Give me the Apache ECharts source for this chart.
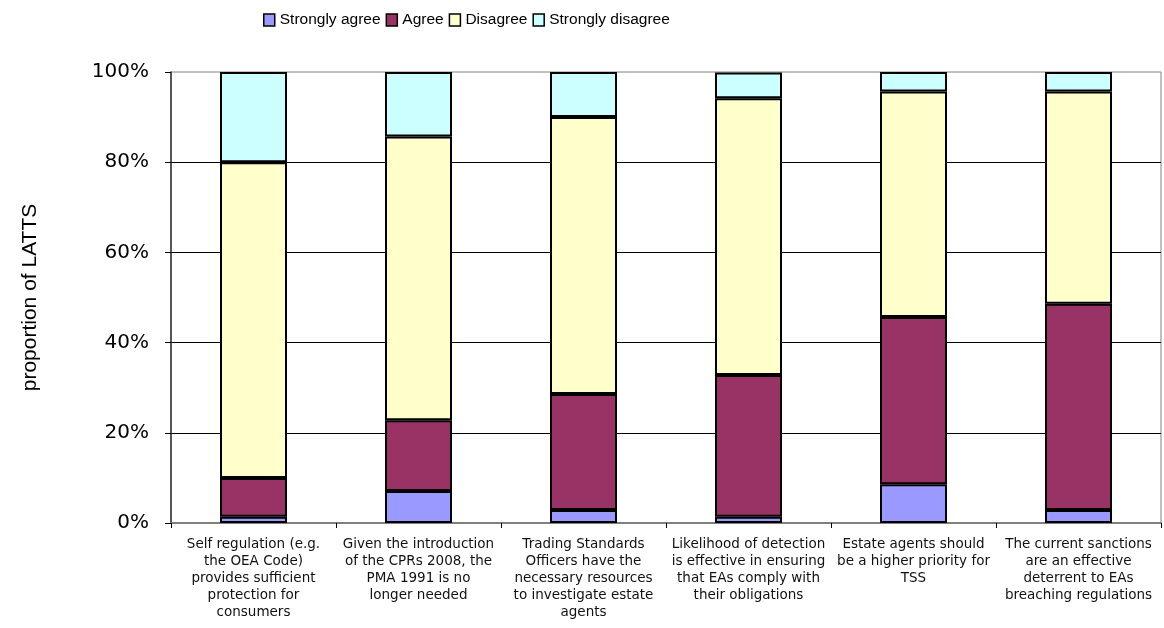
<!DOCTYPE html>
<html>
<head>
<meta charset="utf-8">
<script src="https://cdn.jsdelivr.net/npm/echarts@6/dist/echarts.min.js"></script>
<style>
  html, body { margin: 0; padding: 0; background: #fff; }
  #chart { width: 1164px; height: 628px; }
</style>
</head>
<body>
<div id="chart"></div>
<script>
// Survey statements (one bar each), with line breaks as printed under the axis
const categories = [
  'Self regulation (e.g.\nthe OEA Code)\nprovides sufficient\nprotection for\nconsumers',
  'Given the introduction\nof the CPRs 2008, the\nPMA 1991 is no\nlonger needed',
  'Trading Standards\nOfficers have the\nnecessary resources\nto investigate estate\nagents',
  'Likelihood of detection\nis effective in ensuring\nthat EAs comply with\ntheir obligations',
  'Estate agents should\nbe a higher priority for\nTSS',
  'The current sanctions\nare an effective\ndeterrent to EAs\nbreaching regulations'
];

// Share of responding authorities (%) for each answer
const stronglyAgree    = [1.4, 7.1, 2.9, 1.4, 8.6, 2.9];
const agree            = [8.6, 15.7, 25.7, 31.4, 37.1, 45.7];
const disagree         = [70.0, 62.9, 61.4, 61.4, 50.0, 47.1];
const stronglyDisagree = [20.0, 14.3, 10.0, 5.7, 4.3, 4.3];

const seriesNames = ['Strongly agree', 'Agree', 'Disagree', 'Strongly disagree'];
const seriesColors = ['#9999FF', '#993366', '#FFFFCC', '#CCFFFF'];
const seriesData = [stronglyAgree, agree, disagree, stronglyDisagree];

const chart = echarts.init(document.getElementById('chart'), null, { renderer: 'canvas' });

chart.setOption({
  backgroundColor: '#ffffff',
  animation: false,
  legend: {
    data: seriesNames,
    left: 258,
    top: 7,
    itemWidth: 11,
    itemHeight: 12,
    itemGap: 5,
    icon: 'rect',
    itemStyle: { borderColor: '#000', borderWidth: 1.5 },
    textStyle: {
      fontFamily: '"Liberation Sans", Arial, sans-serif',
      fontSize: 15.5,
      color: '#000'
    }
  },
  grid: {
    left: 171,
    right: 3,
    top: 72,
    bottom: 105,
    show: true,
    borderColor: '#808080',
    borderWidth: 1,
    containLabel: false
  },
  xAxis: {
    type: 'category',
    data: categories,
    axisLine: { lineStyle: { color: '#808080', width: 2 } },
    axisTick: { show: true, length: 5, lineStyle: { color: '#000' } },
    axisLabel: {
      interval: 0,
      margin: 13,
      fontFamily: '"DejaVu Sans", Verdana, sans-serif',
      fontSize: 13.5,
      lineHeight: 17,
      color: '#111',
      align: 'center'
    },
    splitLine: { show: false }
  },
  yAxis: {
    type: 'value',
    min: 0,
    max: 100,
    interval: 20,
    name: 'proportion of LATTS',
    nameLocation: 'middle',
    nameGap: 130,
    nameRotate: 90,
    nameTextStyle: {
      fontFamily: '"Liberation Sans", Arial, sans-serif',
      fontSize: 21,
      color: '#000'
    },
    axisLine: { show: true, lineStyle: { color: '#333', width: 1.5 } },
    axisTick: { show: true, length: 6, lineStyle: { color: '#000' } },
    axisLabel: {
      formatter: '{value}%',
      margin: 22,
      fontFamily: '"DejaVu Sans", Verdana, sans-serif',
      fontSize: 20,
      color: '#000'
    },
    splitLine: {
      show: true,
      showMinLine: false,
      showMaxLine: false,
      lineStyle: { color: '#000', width: 1 }
    }
  },
  series: seriesNames.map((name, i) => ({
    name: name,
    type: 'bar',
    stack: 'total',
    barWidth: 67,
    data: seriesData[i],
    itemStyle: {
      color: seriesColors[i],
      borderColor: '#000',
      borderWidth: 2
    }
  }))
});
</script>
</body>
</html>
